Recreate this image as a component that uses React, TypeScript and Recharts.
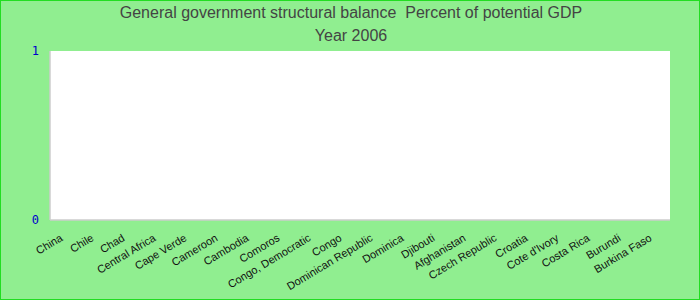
import { BarChart, Bar, XAxis, YAxis, CartesianGrid } from 'recharts';

const countries = [
  'China', 'Chile', 'Chad', 'Central Africa', 'Cape Verde', 'Cameroon', 'Cambodia',
  'Comoros', 'Congo, Democratic', 'Congo', 'Dominican Republic', 'Dominica', 'Djibouti',
  'Afghanistan', 'Czech Republic', 'Croatia', "Cote d'Ivory", 'Costa Rica', 'Burundi',
  'Burkina Faso',
];
// no values reported for 2006
const balance: (number | null)[] = countries.map(() => null);
const yTicks = [0, 1];

const data = countries.map((name, i) => ({ name, value: balance[i] }));

const font = '"Liberation Sans", Arial, sans-serif';

function CountryTick(props: any) {
  const { x, y, payload } = props;
  return (
    <g transform={`translate(${x - 2},${y + 12})`}>
      <text transform="rotate(-31)" textAnchor="end" fontSize={11} fill="#111" fontFamily={font}>
        {payload.value}
      </text>
    </g>
  );
}

function ValueTick(props: any) {
  const { x, y, payload } = props;
  return (
    <text x={x - 1} y={y} dy={4} textAnchor="end" fontSize={12} fill="#0000cc" fontFamily='"DejaVu Sans Mono", monospace'>
      {payload.value}
    </text>
  );
}

export default function App() {
  return (
    <div
      style={{
        position: 'absolute', top: 0, left: 0, width: 700, height: 300,
        background: '#90ee90', border: '1px solid #22dd22', boxSizing: 'border-box',
        fontFamily: font,
      }}
    >
      <div style={{ position: 'absolute', top: 3, left: 0, width: 700, textAlign: 'center', fontSize: 16, color: '#444' }}>
        General government structural balance&nbsp; Percent of potential GDP
      </div>
      <div style={{ position: 'absolute', top: 26, left: 0, width: 700, textAlign: 'center', fontSize: 16, color: '#444' }}>
        Year 2006
      </div>
      <div style={{ position: 'absolute', top: -1, left: -1 }}>
        <BarChart width={700} height={300} data={data} margin={{ top: 51, right: 30, bottom: 0, left: 0 }}>
          <CartesianGrid horizontal={false} vertical={false} fill="#ffffff" />
          <XAxis
            dataKey="name"
            interval={0}
            height={80}
            tick={<CountryTick />}
            tickLine={false}
            axisLine={{ stroke: '#cccccc', strokeWidth: 1.5 }}
          />
          <XAxis xAxisId="top" dataKey="name" orientation="top" height={0} tick={false} tickLine={false}
            axisLine={{ stroke: '#cccccc', strokeWidth: 1.5 }} />
          <YAxis
            type="number"
            domain={[0, 1]}
            allowDataOverflow
            ticks={yTicks}
            interval={0}
            width={50}
            tickSize={0}
            tickMargin={10}
            tickLine={false}
            axisLine={{ stroke: '#cccccc', strokeWidth: 1.5 }}
            tick={<ValueTick />}
          />
          <YAxis yAxisId="right" orientation="right" width={0} domain={[0, 1]} allowDataOverflow tick={false} tickLine={false}
            axisLine={{ stroke: '#cccccc', strokeWidth: 1.5 }} />
          <Bar dataKey="value" fill="#4472c4" isAnimationActive={false} />
        </BarChart>
      </div>
    </div>
  );
}
